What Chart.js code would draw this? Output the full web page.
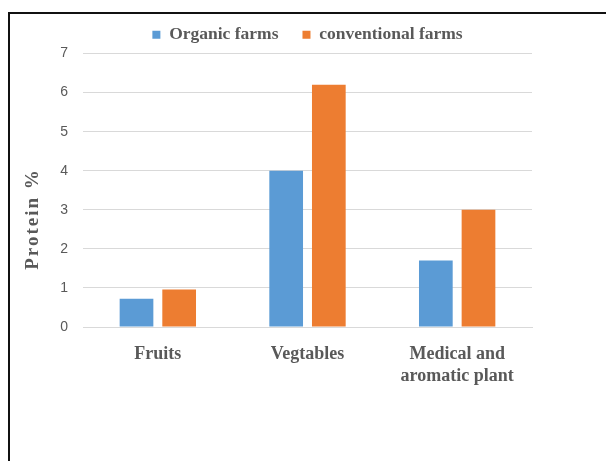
<!DOCTYPE html>
<html>
<head>
<meta charset="utf-8">
<script src="https://cdn.jsdelivr.net/npm/chart.js@4"></script>
<style>
  html, body { margin: 0; padding: 0; background: #fff; overflow: hidden; }
  #frame { position: absolute; left: 8px; top: 12px; width: 700px; height: 600px; border-left: 2px solid #111; border-top: 2px solid #111; }
  #wrap { position: absolute; left: 0; top: 0; width: 606px; height: 461px; }
</style>
</head>
<body>
<div id="frame"></div>
<div id="wrap"><canvas id="chart"></canvas></div>
<script>
const categories = ['Fruits', 'Vegtables', ['Medical and', 'aromatic plant']];
const organic = [0.72, 4.0, 1.7];
const conventional = [0.96, 6.2, 3.0];
const yTicks = [0, 1, 2, 3, 4, 5, 6, 7];

const grey = '#595959';
const serif = '"Liberation Serif", "Times New Roman", serif';

// y axis title drawn by hand so it can sit where the original has it
const yTitle = {
    id: 'yTitle',
    afterDraw(chart) {
        const ctx = chart.ctx;
        ctx.save();
        ctx.translate(33, 219);
        ctx.rotate(-Math.PI / 2);
        ctx.font = 'bold 19px ' + serif;
        ctx.letterSpacing = '2px';
        ctx.fillStyle = grey;
        ctx.textAlign = 'center';
        ctx.textBaseline = 'middle';
        ctx.fillText('Protein %', 0, 0);
        ctx.restore();
    }
};

new Chart(document.getElementById('chart').getContext('2d'), {
    type: 'bar',
    data: {
        labels: categories,
        datasets: [
            { label: 'Organic farms', data: organic, backgroundColor: '#5b9bd5' },
            { label: 'conventional farms', data: conventional, backgroundColor: '#ed7d31' }
        ]
    },
    options: {
        responsive: true,
        maintainAspectRatio: false,
        animation: false,
        layout: { padding: { left: 10, right: 74, top: 2, bottom: 64 } },
        datasets: { bar: { categoryPercentage: 0.57, barPercentage: 0.79 } },
        plugins: {
            tooltip: { enabled: false },
            legend: {
                position: 'top',
                fullSize: false,
                labels: {
                    boxWidth: 8,
                    boxHeight: 8,
                    padding: 24,
                    color: grey,
                    font: { family: serif, weight: 'bold', size: 17.5 }
                }
            }
        },
        scales: {
            x: {
                grid: { display: false, drawTicks: false },
                border: { color: '#d9d9d9' },
                ticks: { color: grey, font: { family: serif, weight: 'bold', size: 18, lineHeight: 1.25 }, padding: 16, maxRotation: 0 },
                afterFit(scale) { scale.height = 70; }
            },
            y: {
                min: 0,
                max: 7,
                afterBuildTicks(scale) { scale.ticks = yTicks.map(v => ({ value: v })); },
                grid: { color: '#d9d9d9', drawTicks: false },
                border: { display: false },
                ticks: { color: grey, padding: 15, font: { family: '"Liberation Sans", Arial, sans-serif', size: 14 } },
                afterFit(scale) { scale.width = 73; }
            }
        }
    },
    plugins: [yTitle]
});
</script>
</body>
</html>
